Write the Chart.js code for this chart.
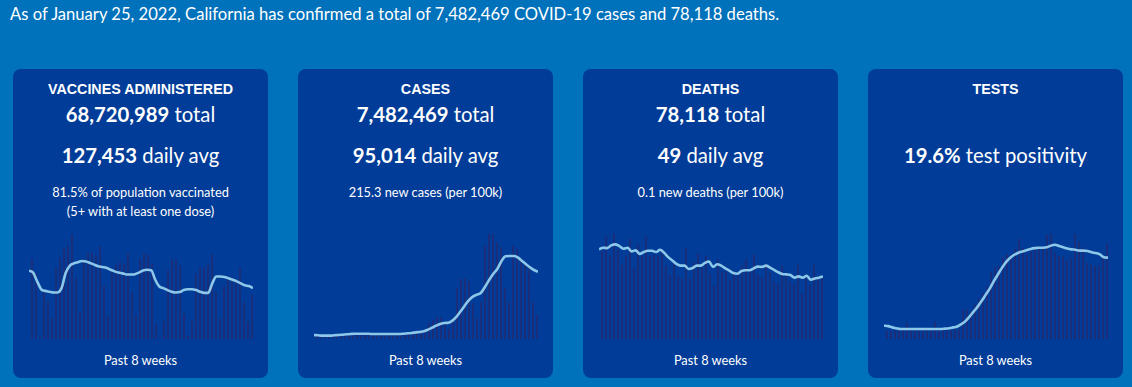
<!DOCTYPE html>
<html><head><meta charset="utf-8">
<script src="https://cdn.jsdelivr.net/npm/chart.js@4.4.1/dist/chart.umd.min.js"></script>
<style>
html,body{margin:0;padding:0;}
body{width:1132px;height:387px;background:#0071BB;position:relative;overflow:hidden;font-family:Lato,"Noto Sans",sans-serif;color:#fff;}
#hdr{position:absolute;left:10px;top:3px;font-size:16.6px;line-height:22px;white-space:nowrap;}
.card{position:absolute;top:69px;width:255px;height:309px;background:#003C98;border-radius:8px;}
.t{position:absolute;left:0;width:100%;text-align:center;white-space:nowrap;}
.title{font-family:"Liberation Sans",Arial,sans-serif;font-weight:bold;font-size:14.3px;line-height:20px;top:10px;}
.big{font-size:20.3px;line-height:26px;}
.big b{font-weight:700;}
.tot{top:32px;}
.avg{top:73px;}
.sub{font-size:12.8px;line-height:20px;}
.s1{top:113px;}
.s2{top:132px;}
.past{font-size:12.8px;line-height:20px;top:281px;}
.chart{position:absolute;left:16px;top:165px;width:224px;height:105px;}
</style></head>
<body>
<div id="hdr">As of January 25, 2022, California has confirmed a total of 7,482,469 COVID-19 cases and 78,118 deaths.</div>

<div class="card" style="left:13px">
  <div class="t title">VACCINES ADMINISTERED</div>
  <div class="t big tot"><b>68,720,989</b> total</div>
  <div class="t big avg"><b>127,453</b> daily avg</div>
  <div class="t sub s1">81.5% of population vaccinated</div>
  <div class="t sub s2">(5+ with at least one dose)</div>
  <canvas class="chart" id="c0" width="224" height="105"></canvas>
  <div class="t past">Past 8 weeks</div>
</div>
<div class="card" style="left:298px">
  <div class="t title">CASES</div>
  <div class="t big tot"><b>7,482,469</b> total</div>
  <div class="t big avg"><b>95,014</b> daily avg</div>
  <div class="t sub s1">215.3 new cases (per 100k)</div>
  <canvas class="chart" id="c1" width="224" height="105"></canvas>
  <div class="t past">Past 8 weeks</div>
</div>
<div class="card" style="left:583px">
  <div class="t title">DEATHS</div>
  <div class="t big tot"><b>78,118</b> total</div>
  <div class="t big avg"><b>49</b> daily avg</div>
  <div class="t sub s1">0.1 new deaths (per 100k)</div>
  <canvas class="chart" id="c2" width="224" height="105"></canvas>
  <div class="t past">Past 8 weeks</div>
</div>
<div class="card" style="left:868px">
  <div class="t title">TESTS</div>
  <div class="t big avg"><b>19.6%</b> test positivity</div>
  <canvas class="chart" id="c3" width="224" height="105"></canvas>
  <div class="t past">Past 8 weeks</div>
</div>

<script>
const days = ['11/30',
 '12/1','12/2','12/3','12/4','12/5','12/6','12/7','12/8','12/9','12/10','12/11','12/12','12/13','12/14','12/15','12/16',
 '12/17','12/18','12/19','12/20','12/21','12/22','12/23','12/24','12/25','12/26','12/27','12/28','12/29','12/30','12/31',
 '1/1','1/2','1/3','1/4','1/5','1/6','1/7','1/8','1/9','1/10','1/11','1/12','1/13','1/14','1/15','1/16',
 '1/17','1/18','1/19','1/20','1/21','1/22','1/23','1/24'];

// vaccine doses administered per day (thousands) and 7-day average
const vaccineDoses = [202,166,4,123,94,53,179,204,227,234,264,153,68,200,217,217,210,234,133,59,174,187,193,189,215,117,61,202,217,212,191,38,2,46,173,199,199,184,64,8,45,164,180,180,187,214,119,51,132,157,157,150,179,92,44,111];
const vaccineAvg = [172,167,145,125,121,119,117,117,128,166,184,190,193,196,195,191,187,183,181,179,174,170,167,165,162,162,163,167,172,174,173,149,132,128,123,119,117,118,123,125,125,123,119,116,116,140,157,157,156,153,149,145,140,135,133,128];

// new cases per day (thousands) and 7-day average
const casesNew = [4.7,4.2,3.8,3.8,4.2,5.2,6.6,5.6,5.2,6.1,6.6,6.1,5.6,6.1,6.6,6.1,5.6,6.1,6.6,6.1,6.6,6.6,7.1,7.5,8.5,9.4,10.3,13.2,22.6,26.3,31.0,31.0,23.5,14.1,25.9,71.9,84.6,85.5,81.8,50.8,29.1,51.7,131.6,148.1,147.1,136.3,129.7,71.9,51.7,131.6,126.9,113.7,104.3,98.7,51.7,33.8];
const casesAvg = [5.6,5.2,4.7,4.7,4.7,5.2,5.6,6.1,6.6,7.1,7.5,7.5,7.5,7.5,7.1,7.1,7.1,7.1,7.1,7.1,7.1,7.1,7.5,8.0,8.5,9.4,9.9,10.8,13.2,16.0,18.8,21.2,22.6,23.0,25.9,31.5,39.0,47.0,54.5,59.7,62.5,65.3,73.8,83.2,91.7,98.7,109.5,116.6,117.0,117.0,115.2,110.5,105.8,101.1,97.3,94.9];

// new deaths per day and 7-day average
const deathsNew = [69,80,65,82,70,58,65,78,55,74,65,80,65,66,65,69,57,50,60,49,47,71,47,60,67,56,65,51,42,62,53,53,46,51,50,57,62,54,66,50,48,59,52,45,43,57,49,45,43,58,36,50,42,58,47,49];
const deathsAvg = [70.0,71.3,71.0,73.1,73.9,72.6,70.5,71.3,68.4,69.2,66.5,67.9,68.9,68.9,67.9,69.7,67.3,63.9,61.3,58.6,57.3,57.3,54.7,55.5,57.3,57.3,59.4,60.5,56.3,58.4,57.3,55.2,53.4,51.5,51.0,53.1,53.7,53.7,55.2,56.5,56.3,57.3,55.8,53.9,52.1,50.8,50.5,50.0,47.9,48.9,47.9,49.4,46.3,47.3,47.9,48.9];

// test positivity per day (%) and 7-day average
const testPositivity = [2.0,1.8,2.0,2.1,2.1,4.0,2.1,2.1,2.0,2.0,2.0,2.0,4.2,2.1,2.1,2.1,2.1,2.3,2.4,6.9,7.1,6.6,8.3,9.7,11.1,12.6,16.0,17.3,17.5,19.6,20.5,20.3,21.7,24.1,21.9,20.3,21.1,21.6,21.7,21.9,25.1,25.3,20.8,20.0,19.8,18.9,19.6,25.3,23.5,22.1,18.3,18.0,17.6,17.6,19.8,23.1];
const testAvg = [3.2,3.1,2.8,2.6,2.4,2.4,2.4,2.4,2.4,2.4,2.4,2.4,2.4,2.4,2.4,2.5,2.6,2.8,3.0,3.6,4.3,5.4,6.6,7.8,9.2,10.7,12.2,14.0,15.6,17.2,18.6,19.6,20.3,20.8,21.1,21.4,21.7,21.9,22.0,22.0,22.1,22.5,22.7,22.4,22.1,21.8,21.6,21.5,21.3,21.3,21.2,20.9,20.7,20.4,19.7,19.6];

const BAR = '#25296F';
const LINE = '#8DC8E8';

function makeChart(id, bars, avg) {
  new Chart(document.getElementById(id), {
    data: {
      labels: days,
      datasets: [
        {type:'line', data: avg, xAxisID:'xl', yAxisID:'y', borderColor: LINE, borderWidth: 2.6,
         pointRadius: 0, cubicInterpolationMode: 'monotone', clip: false, order: 0},
        {type:'bar', data: bars, xAxisID:'xb', yAxisID:'y', backgroundColor: BAR,
         barPercentage: 0.7, categoryPercentage: 1, order: 1}
      ]
    },
    options: {
      responsive: false, animation: false, maintainAspectRatio: false,
      layout: {padding: 0},
      plugins: {legend: {display: false}, tooltip: {enabled: false}},
      scales: {
        xb: {type: 'category', offset: true, display: false},
        xl: {type: 'category', offset: false, display: false},
        y: {min: 0, max: Math.max(...bars), display: false}
      }
    }
  });
}
makeChart('c0', vaccineDoses, vaccineAvg);
makeChart('c1', casesNew, casesAvg);
makeChart('c2', deathsNew, deathsAvg);
makeChart('c3', testPositivity, testAvg);
</script>
</body></html>
